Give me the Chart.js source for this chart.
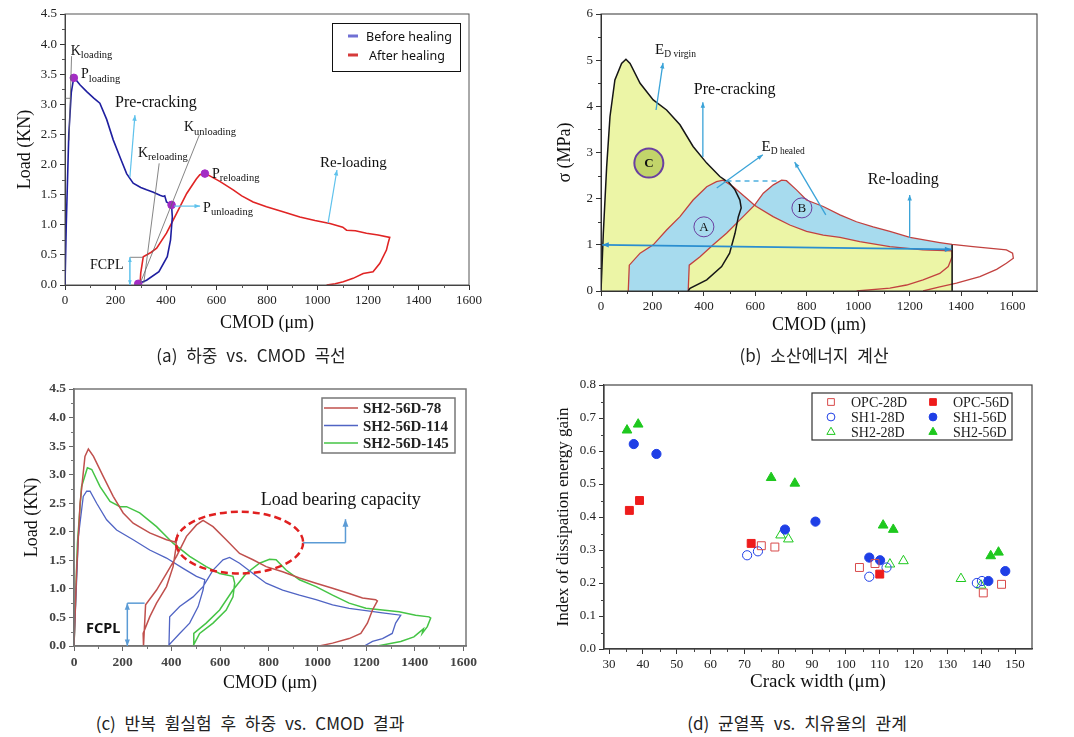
<!DOCTYPE html>
<html><head><meta charset="utf-8">
<script src="https://cdn.jsdelivr.net/npm/chart.js@4.4.1/dist/chart.umd.min.js"></script>
<style>
html,body{margin:0;padding:0;background:#fff;}
body{width:1074px;height:737px;position:relative;overflow:hidden;}
.box{position:absolute;}
.cap{position:absolute;transform:translateX(-50%);white-space:nowrap;font-family:'Noto Sans CJK KR',sans-serif;font-size:17px;line-height:24px;color:#222;word-spacing:5px;}
</style></head><body>
<div class="box" style="left:0;top:0;width:490px;height:345px"><canvas id="ca"></canvas></div>
<div class="box" style="left:540px;top:0;width:534px;height:345px"><canvas id="cb"></canvas></div>
<div class="box" style="left:0;top:370px;width:490px;height:335px"><canvas id="cc"></canvas></div>
<div class="box" style="left:540px;top:370px;width:534px;height:335px"><canvas id="cd"></canvas></div>
<div class="cap" style="left:251px;top:343px">(a) 하중 vs. CMOD 곡선</div>
<div class="cap" style="left:814px;top:343px">(b) 소산에너지 계산</div>
<div class="cap" style="left:250px;top:711px">(c) 반복 휨실험 후 하중 vs. CMOD 결과</div>
<div class="cap" style="left:797px;top:711px">(d) 균열폭 vs. 치유율의 관계</div>
<script>
// ================= DATA =================
// (a) Load vs CMOD
const aTicksX = [0,200,400,600,800,1000,1200,1400,1600];
const aTicksY = [0,0.5,1,1.5,2,2.5,3,3.5,4,4.5];
const aLegend = ['Before healing','After healing'];
const aBeforeX = [0,5,15,25,35,60,86,115,138,165,191,220,244,270,300,323,350,376,389,395,402,422,425,418,405,372,323,290];
const aBeforeY = [0,1.0,2.5,3.2,3.45,3.32,3.21,3.1,3.02,2.75,2.41,2.1,1.85,1.69,1.62,1.58,1.54,1.49,1.47,1.48,1.38,1.33,1.13,0.75,0.47,0.22,0.08,0.02];
const aAfterX = [297,300,310,340,363,402,442,482,520,534,554,570,613,666,700,745,798,860,930,990,1049,1100,1115,1150,1194,1240,1286,1280,1273,1247,1220,1181,1141,1102,1070,1036];
const aAfterY = [0,0.2,0.47,0.54,0.61,0.86,1.19,1.52,1.76,1.83,1.85,1.82,1.72,1.58,1.48,1.38,1.30,1.22,1.13,1.07,1.02,0.96,0.91,0.90,0.86,0.83,0.79,0.70,0.58,0.36,0.22,0.19,0.11,0.055,0.02,0];
const aMarkX = [35,290,422,554];
const aMarkY = [3.44,0.02,1.33,1.85];

// (b) dissipated energy
const bTicksX = [0,200,400,600,800,1000,1200,1400,1600];
const bTicksY = [0,1,2,3,4,5,6];
const bVirginX = [0,9,22,35,54,80,97,113,152,203,255,307,358,411,462,482,495,521,540,545,534,521,500,469,411,346,339];
const bVirginY = [0,1.25,2.69,3.78,4.57,4.93,5.02,4.93,4.50,4.14,3.92,3.60,3.13,2.77,2.48,2.40,2.37,2.19,1.97,1.80,1.61,1.25,0.82,0.53,0.24,0.06,0];
const bHealAX = [106,110,152,203,255,307,358,411,449,475,514,566,597,604,669,734,799,864,929,1006,1123,1252,1365,1365,1350,1317,1252,1188,1123,994];
const bHealAY = [0,0.56,0.82,1.0,1.32,1.61,1.97,2.26,2.37,2.40,2.26,2.01,1.86,1.83,1.61,1.43,1.29,1.21,1.16,1.07,0.96,0.89,0.87,0.74,0.53,0.38,0.24,0.13,0.06,0];
const bHealBX = [339,343,385,436,488,540,597,631,670,702,721,760,799,864,929,993,1058,1123,1201,1317,1365,1446,1576,1600,1603,1576,1538,1473,1382,1317,1252];
const bHealBY = [0,0.56,0.74,1.0,1.25,1.54,1.86,2.12,2.30,2.40,2.39,2.19,1.97,1.83,1.65,1.50,1.39,1.29,1.16,1.05,1.01,0.96,0.89,0.82,0.71,0.60,0.47,0.31,0.17,0.09,0];

// (c) repeated bending
const cTicksX = [0,200,400,600,800,1000,1200,1400,1600];
const cTicksY = [0,0.5,1,1.5,2,2.5,3,3.5,4,4.5];
const cSeries = ['SH2-56D-78','SH2-56D-114','SH2-56D-145'];
const cRedX = [0,11,25,45,59,80,120,161,202,243,311,380,415,421,418,407,380,339,311,284,284,287,294,339,380,421,462,503,530,571,625,680,735,789,857,926,994,1062,1130,1185,1239,1246,1226,1205,1178,1130,1062,1007];
const cRedY = [0,1.33,2.5,3.32,3.45,3.32,2.97,2.62,2.33,2.15,1.98,1.86,1.82,1.90,1.70,1.39,1.04,0.75,0.51,0.22,0,0,0.72,0.98,1.27,1.57,1.92,2.12,2.20,2.09,1.86,1.62,1.51,1.39,1.30,1.19,1.10,1.01,0.92,0.84,0.81,0.79,0.63,0.40,0.22,0.13,0.05,0];
const cBlueX = [0,18,38,52,66,93,134,175,243,311,380,448,503,537,530,510,475,434,386,390,393,434,489,530,571,612,639,680,735,789,857,926,994,1062,1130,1199,1267,1342,1321,1307,1267,1226,1192];
const cBlueY = [0,1.92,2.62,2.71,2.71,2.50,2.21,2.03,1.86,1.68,1.54,1.36,1.22,1.16,0.98,0.69,0.40,0.22,0,0,0.51,0.69,0.86,1.04,1.33,1.51,1.55,1.45,1.27,1.10,0.98,0.89,0.81,0.72,0.66,0.62,0.58,0.54,0.40,0.22,0.13,0.08,0];
const cGreenX = [0,14,31,55,73,107,148,189,216,270,339,407,475,543,598,653,660,653,625,571,516,489,492,492,543,598,653,707,762,803,830,871,926,994,1062,1130,1199,1267,1335,1403,1458,1465,1451,1430,1435,1396,1342,1246];
const cGreenY = [0,1.80,2.79,3.12,3.09,2.79,2.53,2.44,2.44,2.33,2.09,1.80,1.57,1.39,1.27,1.22,1.10,0.86,0.63,0.40,0.22,0,0,0.22,0.40,0.63,0.98,1.27,1.45,1.52,1.51,1.33,1.16,1.04,0.89,0.75,0.66,0.63,0.60,0.54,0.51,0.49,0.34,0.22,0.30,0.16,0.08,0];

// (d) crack width vs healing index
const dTicksX = [30,40,50,60,70,80,90,100,110,120,130,140,150];
const dTicksY = [0,0.1,0.2,0.3,0.4,0.5,0.6,0.7,0.8];
const dSeries = ['OPC-28D','OPC-56D','SH1-28D','SH1-56D','SH2-28D','SH2-56D'];
const dOpc28X = [75,79,104,108.6,140.6,146];
const dOpc28Y = [0.313,0.309,0.247,0.259,0.170,0.196];
const dOpc56X = [36,39,72,110];
const dOpc56Y = [0.42,0.45,0.32,0.227];
const dSh128X = [70.8,74,106.9,112,138.7,140.2];
const dSh128Y = [0.284,0.296,0.219,0.247,0.200,0.206];
const dSh156X = [37.3,44,82,91,106.9,110.1,142.1,147.1];
const dSh156Y = [0.621,0.591,0.362,0.386,0.277,0.269,0.206,0.236];
const dSh228X = [80.7,83,113,117,134,139.9];
const dSh228Y = [0.345,0.333,0.257,0.267,0.213,0.193];
const dSh256X = [35.3,38.6,77.9,84.9,111,114,142.8,145.1];
const dSh256Y = [0.663,0.681,0.519,0.502,0.375,0.362,0.282,0.293];

// ================= HELPERS =================
const SERIF = "'Liberation Serif','Times New Roman',serif";
const SANS = "'Noto Sans','DejaVu Sans',sans-serif";
function P(xs, ys){ return xs.map((x,i)=>({x:x, y:ys[i]})); }
function mids(a){ const r=[]; for(let i=0;i<a.length-1;i++) r.push((a[i]+a[i+1])/2); return r; }
function seg(ctx,x1,y1,x2,y2,c,w,dash){ ctx.save(); ctx.strokeStyle=c; ctx.lineWidth=w; if(dash) ctx.setLineDash(dash); ctx.beginPath(); ctx.moveTo(x1,y1); ctx.lineTo(x2,y2); ctx.stroke(); ctx.restore(); }
function arrow(ctx,x1,y1,x2,y2,c,w,head,both){
  ctx.save(); ctx.strokeStyle=c; ctx.fillStyle=c; ctx.lineWidth=w;
  ctx.beginPath(); ctx.moveTo(x1,y1); ctx.lineTo(x2,y2); ctx.stroke();
  const h=(xa,ya,xb,yb)=>{ const a=Math.atan2(yb-ya,xb-xa); ctx.beginPath(); ctx.moveTo(xb,yb);
    ctx.lineTo(xb-head*Math.cos(a-0.38), yb-head*Math.sin(a-0.38)); ctx.lineTo(xb-head*Math.cos(a+0.38), yb-head*Math.sin(a+0.38)); ctx.closePath(); ctx.fill(); };
  h(x1,y1,x2,y2); if(both) h(x2,y2,x1,y1); ctx.restore();
}
function txt(ctx,s,x,y,size,font,color,weight){ ctx.save(); ctx.font=(weight||'normal')+' '+size+'px '+(font||SERIF); ctx.fillStyle=color||'#111'; ctx.textAlign='left'; ctx.textBaseline='alphabetic'; ctx.fillText(s,x,y); ctx.restore(); }
function subTxt(ctx,main,sub,x,y,ms,ss){ ctx.save(); ctx.fillStyle='#111'; ctx.textBaseline='alphabetic'; ctx.textAlign='left';
  ctx.font=ms+'px '+SERIF; ctx.fillText(main,x,y); const w=ctx.measureText(main).width; ctx.font=ss+'px '+SERIF; ctx.fillText(sub,x+w,y+ss*0.3); ctx.restore(); }

function axes(o){
  const common = (ticks, fmt, titleTxt, titleSize, pad, fit) => ({
    type:'linear', afterBuildTicks: s=>{ s.ticks = ticks.map(v=>({value:v})); }, afterFit: fit,
    grid:{display:true, drawOnChartArea:false, drawTicks:true, tickLength:5, color:o.axisColor, lineWidth:1},
    border:{display:true, color:o.axisColor, width:o.axisWidth},
    ticks:{font:{family:SERIF,size:o.tickSize,weight:o.tickWeight||'normal'}, color:o.tickColor||'#222', padding:3, maxRotation:0, autoSkip:false, callback: fmt},
    title:{display:true, text:titleTxt, font:{family:SERIF,size:titleSize}, color:'#111', padding:pad}
  });
  const x = common(o.xTicks, o.xFmt, o.xTitle, o.xTitleSize||o.titleSize, {top:0,bottom:o.xTitlePad}, s=>{ s.height=o.xH; });
  x.min=o.xMin; x.max=o.xMax;
  const y = common(o.yTicks, o.yFmt, o.yTitle, o.titleSize, {top:o.yTitlePad,bottom:0}, s=>{ s.width=o.yW; });
  y.min=o.yMin; y.max=o.yMax;
  return {x:x, y:y};
}
function frameMinor(o){ return { id:'frameMinor', afterDraw(chart){
  const {ctx, chartArea:a} = chart; const sx=chart.scales.x, sy=chart.scales.y;
  ctx.save(); ctx.strokeStyle=o.color; ctx.lineWidth=o.width;
  ctx.strokeRect(a.left, a.top, a.right-a.left, a.bottom-a.top);
  ctx.lineWidth=1; ctx.beginPath();
  o.xMinor.forEach(v=>{ const p=Math.round(sx.getPixelForValue(v))+0.5; ctx.moveTo(p,a.bottom); ctx.lineTo(p,a.bottom+3); });
  o.yMinor.forEach(v=>{ const p=Math.round(sy.getPixelForValue(v))+0.5; ctx.moveTo(a.left,p); ctx.lineTo(a.left-3,p); });
  ctx.stroke(); ctx.restore(); } }; }
const f1 = v => Number(v).toFixed(1);
const f0 = v => String(v);
const baseOpts = { responsive:true, maintainAspectRatio:false, animation:false, plugins:{legend:{display:false}, tooltip:{enabled:false}} };
function line(data, color, w, order){ return {data:data, showLine:true, borderColor:color, borderWidth:w, pointRadius:0, fill:false, tension:0, order:order||0}; }

// ================= (a) =================
const annotA = { id:'annotA', afterDraw(chart){
  const ctx=chart.ctx; const X=v=>chart.scales.x.getPixelForValue(v), Y=v=>chart.scales.y.getPixelForValue(v);
  const LB='#5fc2ec', GR='#666';
  seg(ctx,X(0),Y(3.1),X(25),Y(3.1),GR,0.8);
  seg(ctx,X(26),Y(3.8),X(16),Y(2.4),GR,0.8);
  seg(ctx,X(373),Y(2.02),X(312),Y(0.03),GR,0.8);
  seg(ctx,X(532),Y(2.49),X(298),Y(0.03),GR,0.8);
  seg(ctx,X(257),Y(0.46),X(308),Y(0.46),GR,0.8);
  arrow(ctx,X(257),Y(1.79),X(277),Y(2.82),LB,1.2,6,false);
  arrow(ctx,X(1042),Y(1.03),X(1077),Y(1.91),LB,1.2,6,false);
  arrow(ctx,X(432),Y(1.31),X(535),Y(1.31),LB,1.2,6,false);
  arrow(ctx,X(257),Y(0.0),X(257),Y(0.46),LB,1.5,5,true);
  subTxt(ctx,'K','loading',X(22.6),Y(3.82),14,10.5);
  subTxt(ctx,'P','loading',X(63.4),Y(3.43),14,10.5);
  subTxt(ctx,'K','reloading',X(289),Y(2.13),14,10.5);
  subTxt(ctx,'K','unloading',X(471),Y(2.55),14,10.5);
  subTxt(ctx,'P','reloading',X(582),Y(1.78),14,10.5);
  subTxt(ctx,'P','unloading',X(547),Y(1.22),14,10.5);
  txt(ctx,'Pre-cracking',X(198),Y(2.96),16);
  txt(ctx,'Re-loading',X(1010),Y(1.96),15);
  txt(ctx,'FCPL',X(99),Y(0.27),14);
  // legend
  const a=chart.chartArea; const lx=a.right-137, ly=a.top+9;
  ctx.save(); ctx.fillStyle='#fff'; ctx.fillRect(lx,ly,128,48); ctx.strokeStyle='#111'; ctx.lineWidth=1; ctx.strokeRect(lx+0.5,ly+0.5,128,48);
  const cols=['#7070d4','#d63a3a'];
  aLegend.forEach((t,i)=>{ const yy=ly+13+i*19; ctx.fillStyle=cols[i]; ctx.fillRect(lx+16,yy-1.5,10,3); txt(ctx,t,lx+34+(i?3:0),yy+4.5,12.5,SANS,'#111'); });
  ctx.restore();
} };
new Chart(document.getElementById('ca'), {
  type:'scatter',
  data:{datasets:[
    {data:P(aMarkX,aMarkY), pointRadius:3.8, pointBackgroundColor:'#a32cc4', pointBorderColor:'#a32cc4', order:0},
    line(P(aBeforeX,aBeforeY),'#1f1fa0',1.6,1),
    line(P(aAfterX,aAfterY),'#e02424',1.6,2)
  ]},
  options:Object.assign({}, baseOpts, {
    layout:{padding:{top:14,right:21,left:0,bottom:0}},
    scales:axes({xMin:0,xMax:1600,yMin:0,yMax:4.5,xTicks:aTicksX,yTicks:aTicksY,xFmt:f0,yFmt:f1,xTitle:'CMOD (μm)',yTitle:'Load (KN)',
      xH:60,yW:65,xTitlePad:11,yTitlePad:14,tickSize:13,titleSize:18,axisColor:'#333',axisWidth:1})
  }),
  plugins:[frameMinor({color:'#555',width:1,xMinor:mids(aTicksX),yMinor:mids(aTicksY)}), annotA]
});

// ================= (b) =================
const polyYellow = P(bVirginX.slice(0,16).concat(bHealAX.slice(9,23), [bHealAX[22]]), bVirginY.slice(0,16).concat(bHealAY.slice(9,23), [0]));
const polyBlueA = P(bHealAX.slice(0,13).concat(bHealBX.slice(0,7).reverse()), bHealAY.slice(0,13).concat(bHealBY.slice(0,7).reverse()));
const polyBlueB = P(bHealBX.slice(6,21).concat(bHealAX.slice(12,23).reverse()), bHealBY.slice(6,21).concat(bHealAY.slice(12,23).reverse()));
const annotB = { id:'annotB', afterDatasetsDraw(chart){
  const ctx=chart.ctx; const X=v=>chart.scales.x.getPixelForValue(v), Y=v=>chart.scales.y.getPixelForValue(v);
  const LB='#3aa3d8';
  seg(ctx,X(bHealAX[22]),Y(0),X(bHealAX[22]),Y(1.0),'#111',1.5);
  seg(ctx,X(488),Y(2.38),X(696),Y(2.38),'#4fb0e0',1.5,[5,4]);
  arrow(ctx,X(5),Y(1.0),X(1362),Y(0.9),'#2a8ed0',1.8,7,true);
  arrow(ctx,X(214),Y(3.92),X(241),Y(4.94),LB,1.3,6,false);
  arrow(ctx,X(396),Y(2.9),X(396),Y(4.09),LB,1.3,6,false);
  arrow(ctx,X(450),Y(2.23),X(629),Y(2.95),LB,1.3,6,false);
  arrow(ctx,X(874),Y(1.65),X(753),Y(2.79),LB,1.3,6,false);
  arrow(ctx,X(1200),Y(1.15),X(1200),Y(2.08),LB,1.3,6,false);
  subTxt(ctx,'E','D virgin',X(210),Y(5.13),15,9.5);
  subTxt(ctx,'E','D healed',X(624),Y(3.03),15,9.5);
  txt(ctx,'Pre-cracking',X(361),Y(4.26),16);
  txt(ctx,'Re-loading',X(1037),Y(2.31),16);
  ctx.save();
  const circ=(cx,cy,r,fill,lab,lw,bold)=>{ ctx.beginPath(); ctx.arc(X(cx),Y(cy),r,0,Math.PI*2); if(fill){ctx.fillStyle=fill; ctx.fill();} ctx.strokeStyle='#6a3fa0'; ctx.lineWidth=lw; ctx.stroke();
    ctx.fillStyle='#111'; ctx.font=(bold?'bold ':'')+'13px '+SERIF; ctx.textAlign='center'; ctx.textBaseline='middle'; ctx.fillText(lab,X(cx),Y(cy)+1); };
  circ(186,2.77,14.5,'#c2d46a','C',2,true);
  circ(400,1.39,10,null,'A',1,false);
  circ(781,1.8,10,null,'B',1,false);
  ctx.restore();
} };
new Chart(document.getElementById('cb'), {
  type:'scatter',
  data:{datasets:[
    line(P(bVirginX,bVirginY),'#161616',1.5,0),
    line(P(bHealAX,bHealAY),'#c2413f',1.3,1),
    line(P(bHealBX,bHealBY),'#c2413f',1.3,2),
    {data:polyBlueA, showLine:true, borderWidth:0, pointRadius:0, fill:'shape', backgroundColor:'#a7dbee', order:5},
    {data:polyBlueB, showLine:true, borderWidth:0, pointRadius:0, fill:'shape', backgroundColor:'#a7dbee', order:6},
    {data:polyYellow, showLine:true, borderWidth:0, pointRadius:0, fill:'shape', backgroundColor:'#ecf5a6', order:7}
  ]},
  options:Object.assign({}, baseOpts, {
    layout:{padding:{top:14,right:37,left:0,bottom:0}},
    scales:axes({xMin:0,xMax:1695,yMin:0,yMax:6,xTicks:bTicksX,yTicks:bTicksY,xFmt:f0,yFmt:f0,xTitle:'CMOD (μm)',yTitle:'σ (MPa)',
      xH:54,yW:61,xTitlePad:9,yTitlePad:14,tickSize:13,titleSize:18,axisColor:'#333',axisWidth:1})
  }),
  plugins:[frameMinor({color:'#333',width:1,xMinor:mids(bTicksX),yMinor:mids(bTicksY)}), annotB]
});

// ================= (c) =================
const cColors = ['#c0504d','#5064c4','#45c445'];
const annotC = { id:'annotC', afterDraw(chart){
  const ctx=chart.ctx; const X=v=>chart.scales.x.getPixelForValue(v), Y=v=>chart.scales.y.getPixelForValue(v);
  const LB='#5b9bd5';
  ctx.save(); ctx.strokeStyle='#e02020'; ctx.lineWidth=2.5; ctx.setLineDash([7,4]);
  ctx.beginPath(); ctx.ellipse(X(680),Y(1.81),X(941)-X(680),Y(1.27)-Y(1.81),0,0,Math.PI*2); ctx.stroke(); ctx.restore();
  seg(ctx,X(941),Y(1.81),X(1115),Y(1.81),LB,1.5);
  arrow(ctx,X(1115),Y(1.81),X(1115),Y(2.22),LB,1.5,8,false);
  txt(ctx,'Load bearing capacity',X(767),Y(2.47),18);
  arrow(ctx,X(219),Y(0.0),X(219),Y(0.75),LB,1.5,7,true);
  seg(ctx,X(219),Y(0.75),X(290),Y(0.75),LB,1.5);
  txt(ctx,'FCPL',X(49),Y(0.22),14.5,SANS,'#111','bold');
  // legend
  const a=chart.chartArea; const lx=a.right-144, ly=a.top+9;
  ctx.save(); ctx.fillStyle='#fff'; ctx.fillRect(lx,ly,133,55); ctx.strokeStyle='#777'; ctx.lineWidth=1.5; ctx.strokeRect(lx,ly,133,55);
  cSeries.forEach((t,i)=>{ const yy=ly+10+i*17.5; seg(ctx,lx+2,yy,lx+36,yy,cColors[i],1.6); txt(ctx,t,lx+41,yy+5,15,SERIF,'#222','bold'); });
  ctx.restore();
} };
new Chart(document.getElementById('cc'), {
  type:'scatter',
  data:{datasets:[
    line(P(cRedX,cRedY),cColors[0],1.5,0),
    line(P(cBlueX,cBlueY),cColors[1],1.3,1),
    line(P(cGreenX,cGreenY),cColors[2],1.5,2)
  ]},
  options:Object.assign({}, baseOpts, {
    layout:{padding:{top:19,right:24,left:0,bottom:0}},
    scales:axes({xMin:0,xMax:1610,yMin:0,yMax:4.5,xTicks:cTicksX,yTicks:cTicksY,xFmt:f0,yFmt:f1,xTitle:'CMOD (μm)',yTitle:'Load (KN)',
      xH:59,yW:74,xTitlePad:11,yTitlePad:21,tickSize:13.5,tickWeight:'bold',tickColor:'#444',titleSize:18,axisColor:'#666',axisWidth:1.5})
  }),
  plugins:[frameMinor({color:'#777',width:1.5,xMinor:mids(cTicksX),yMinor:mids(cTicksY)}), annotC]
});

// ================= (d) =================
const RED='#ee1c1c', BLUE='#1f3fe6', GREEN='#1ec81e';
function pts(xs,ys,style,color,open,r){ return {data:P(xs,ys), pointStyle:style, pointRadius:r, borderColor:color, backgroundColor:open?'rgba(255,255,255,0)':color, pointBorderWidth:1, borderWidth:1}; }
const dSets = [
  pts(dOpc28X,dOpc28Y,'rect','#d84a4a',true,5.6),
  pts(dOpc56X,dOpc56Y,'rect',RED,false,5.6),
  pts(dSh128X,dSh128Y,'circle',BLUE,true,4.6),
  pts(dSh156X,dSh156Y,'circle',BLUE,false,4.6),
  pts(dSh228X,dSh228Y,'triangle',GREEN,true,5.6),
  pts(dSh256X,dSh256Y,'triangle',GREEN,false,5.6)
];
dSets.forEach((d,i)=>{ d.label=dSeries[i]; });
const legendD = { id:'legendD', afterDraw(chart){
  const ctx=chart.ctx; const a=chart.chartArea; const lx=a.right-220, ly=a.top+8;
  ctx.save(); ctx.fillStyle='#fff'; ctx.fillRect(lx,ly,200,47); ctx.strokeStyle='#333'; ctx.lineWidth=1.2; ctx.strokeRect(lx,ly,200,47);
  chart.data.datasets.forEach((d,i)=>{ const col=i%2, row=Math.floor(i/2); const sx=lx+19+col*102, sy=ly+9+row*15;
    ctx.fillStyle=d.backgroundColor; ctx.strokeStyle=d.borderColor; ctx.lineWidth=1;
    Chart.helpers.drawPoint(ctx,{pointStyle:d.pointStyle, radius:d.pointRadius*0.85, rotation:0, borderWidth:1},sx,sy);
    txt(ctx,d.label,sx+20,sy+5,14,SERIF,'#222'); });
  ctx.restore();
} };
new Chart(document.getElementById('cd'), {
  type:'scatter',
  data:{datasets:dSets},
  options:Object.assign({}, baseOpts, {
    layout:{padding:{top:15,right:42,left:0,bottom:0}},
    scales:axes({xMin:28.5,xMax:155,yMin:0,yMax:0.8,xTicks:dTicksX,yTicks:dTicksY,xFmt:f0,yFmt:f1,xTitle:'Crack width (μm)',yTitle:'Index of dissipation energy gain',
      xH:56,yW:64,xTitlePad:12,yTitlePad:13,tickSize:13,titleSize:17,xTitleSize:19,axisColor:'#333',axisWidth:1.2})
  }),
  plugins:[frameMinor({color:'#444',width:1.2,xMinor:mids(dTicksX),yMinor:mids(dTicksY)}), legendD]
});
</script>
</body></html>
